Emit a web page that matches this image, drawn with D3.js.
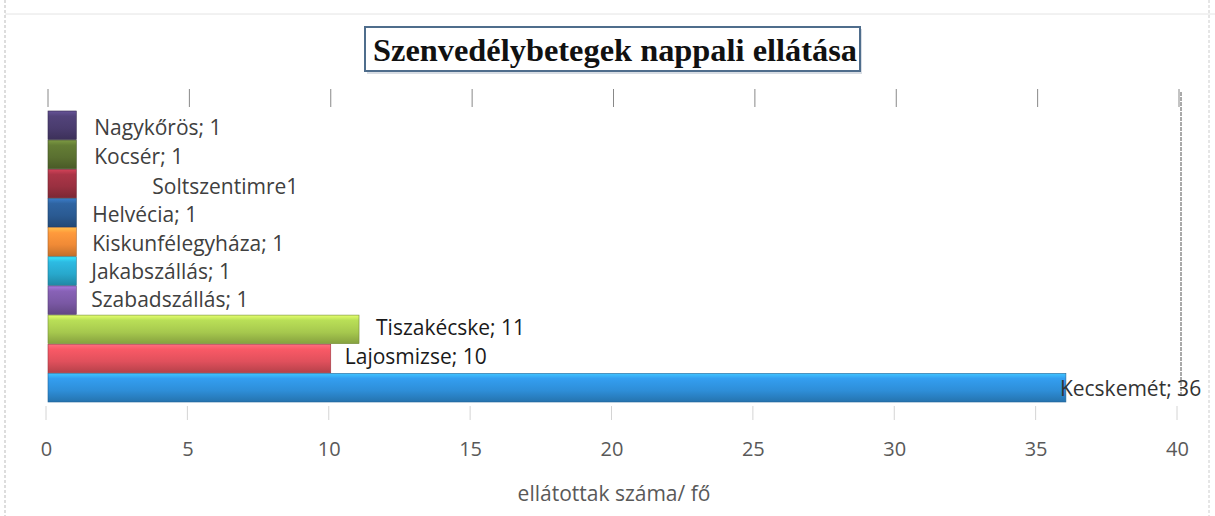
<!DOCTYPE html>
<html><head><meta charset="utf-8">
<script src="https://cdn.jsdelivr.net/npm/d3@7"></script>
<style>body{margin:0;background:#fff}svg{display:block}</style>
</head><body>
<svg id="c" width="1215" height="516"></svg>
<script>
// Data (top to bottom as drawn)
const categories = ["Nagykőrös","Kocsér","Soltszentimre","Helvécia","Kiskunfélegyháza","Jakabszállás","Szabadszállás","Tiszakécske","Lajosmizse","Kecskemét"];
const values = [1,1,1,1,1,1,1,11,10,36];
const labelTexts = ["Nagykőrös; 1","Kocsér; 1","Soltszentimre1","Helvécia; 1","Kiskunfélegyháza; 1","Jakabszállás; 1","Szabadszállás; 1","Tiszakécske; 11","Lajosmizse; 10","Kecskemét; 36"];
const tickValues = [0,5,10,15,20,25,30,35,40];
const titleText = "Szenvedélybetegek nappali ellátása";
const axisTitle = "ellátottak száma/ fő";

// Styles / layout
const colors = ["#4a3c6e","#5a7030","#9a3040","#2a5a92","#f08a36","#28a8cc","#7a58a4","#a6c84e","#e0505c","#2e8ed8"];
const labelDx = [18,18,76,16,16,15,15,17,14,-6];
const labelDy = [10,10,10,9,9,8,7,6,5,8];
const labelFill = ["#404040","#404040","#404040","#404040","#404040","#404040","#404040","#1a1a1a","#1a1a1a","#333"];
const FONT = "Open Sans, Lato, sans-serif";

const svg = d3.select("#c");
const x = d3.scaleLinear().domain([0,40]).range([46,1177]);
const y = d3.scaleBand().domain(categories).range([111,402]).paddingInner(0.02);

// scan border artifacts
svg.append("line").attr("x1",5).attr("x2",5).attr("y1",0).attr("y2",516).attr("stroke","#bbb").attr("stroke-dasharray","3,2");
svg.append("line").attr("x1",5).attr("x2",1215).attr("y1",14).attr("y2",14).attr("stroke","#e4e4e4");
svg.append("line").attr("x1",1209).attr("x2",1209).attr("y1",0).attr("y2",516).attr("stroke","#ccc").attr("stroke-dasharray","3,2");

// title box
svg.append("rect").attr("x",367).attr("y",29).attr("width",495).attr("height",45).attr("fill","#d8dde4");
svg.append("rect").attr("x",365).attr("y",27).attr("width",495).attr("height",44).attr("fill","#fff").attr("stroke","#4f6d8c").attr("stroke-width",2);
svg.append("text").attr("x",373).attr("y",61).attr("textLength",484).attr("lengthAdjust","spacingAndGlyphs")
  .attr("font-family","Liberation Serif, DejaVu Serif, serif").attr("font-weight","bold").attr("font-size",32).attr("fill","#111").text(titleText);

// top tick marks and faint bottom ticks
svg.append("g").selectAll("line").data(tickValues).join("line")
  .attr("x1",d=>x(d)+2).attr("x2",d=>x(d)+2).attr("y1",89).attr("y2",107).attr("stroke","#888").attr("stroke-width",1);
svg.append("g").selectAll("line").data(tickValues).join("line")
  .attr("x1",d=>x(d)).attr("x2",d=>x(d)).attr("y1",406).attr("y2",420).attr("stroke","#d4d4d4").attr("stroke-width",1);
// right plot border
svg.append("line").attr("x1",x(40)+4).attr("x2",x(40)+4).attr("y1",92).attr("y2",395).attr("stroke","#555").attr("stroke-dasharray","4,1");

// gradients
const defs = svg.append("defs");
colors.forEach((c,i)=>{
  const g = defs.append("linearGradient").attr("id","g"+i).attr("x1",0).attr("x2",0).attr("y1",0).attr("y2",1);
  g.append("stop").attr("offset","0%").attr("stop-color",d3.color(c).brighter(0.9));
  g.append("stop").attr("offset","18%").attr("stop-color",d3.color(c).brighter(0.3));
  g.append("stop").attr("offset","60%").attr("stop-color",c);
  g.append("stop").attr("offset","100%").attr("stop-color",d3.color(c).darker(0.6));
});

// bars
svg.append("g").selectAll("rect").data(values).join("rect")
  .attr("x",x(0)+2).attr("y",(d,i)=>y(categories[i]))
  .attr("width",d=>x(d)-x(0)).attr("height",y.bandwidth())
  .attr("fill",(d,i)=>`url(#g${i})`).attr("stroke",(d,i)=>d3.color(colors[i]).darker(1)).attr("stroke-width",0.6);

// labels
svg.append("g").selectAll("text").data(values).join("text")
  .attr("x",(d,i)=>x(d)+2+labelDx[i]).attr("y",(d,i)=>y(categories[i])+y.bandwidth()/2+labelDy[i])
  .attr("font-family",FONT).attr("font-size",21)
  .attr("font-weight",(d,i)=>i>=7?500:400)
  .attr("fill",(d,i)=>labelFill[i]).text((d,i)=>labelTexts[i]);

// x axis labels
const axis = d3.axisBottom(x).tickValues(tickValues).tickSize(0).tickPadding(0);
const ag = svg.append("g").attr("transform","translate(0,442)").call(axis);
ag.select(".domain").remove();
ag.selectAll("text").attr("font-family",FONT).attr("font-size",20).attr("fill","#595959");

svg.append("text").attr("x",614).attr("y",501).attr("text-anchor","middle")
  .attr("font-family",FONT).attr("font-size",21).attr("fill","#595959").text(axisTitle);
</script>
</body></html>
